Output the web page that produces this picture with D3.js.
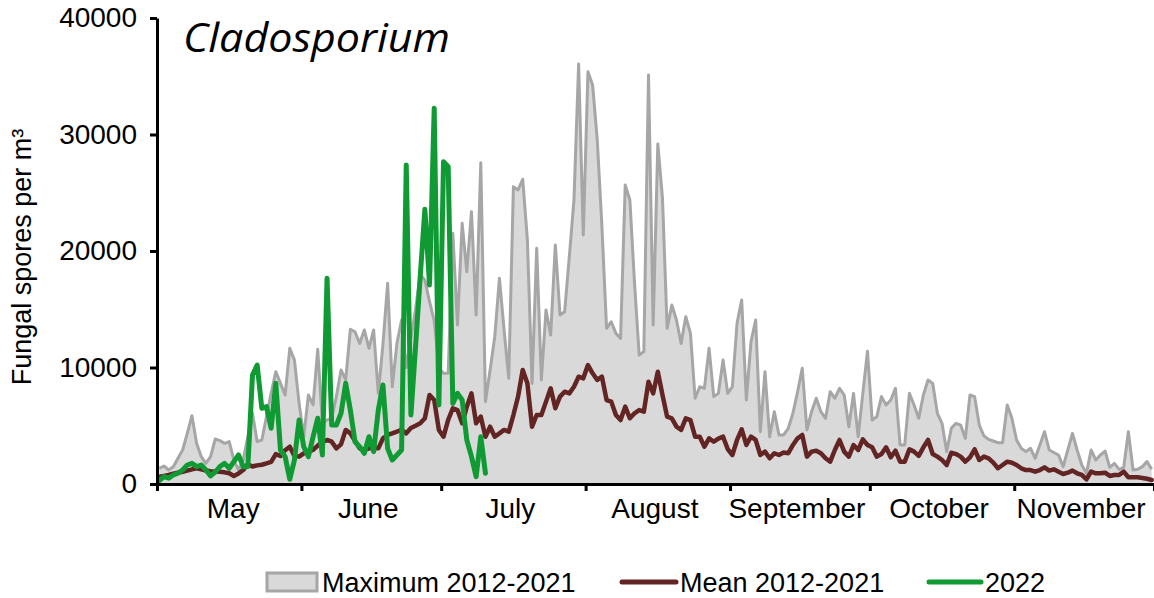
<!DOCTYPE html>
<html><head><meta charset="utf-8">
<script src="https://cdn.jsdelivr.net/npm/d3@7"></script>
<style>body{margin:0;background:#fff} svg{display:block}</style>
</head><body>
<svg id="c" width="1154" height="598"></svg>
<script>
const months = ["May","June","July","August","September","October","November"];
const monthStartDays = [0,31,61,92,123,153,184,214];
const yTicks = [0,10000,20000,30000,40000];
const legendLabels = ["Maximum 2012-2021","Mean 2012-2021","2022"];

const maxVals = [1345,1545,1201,1488,2203,2918,4349,5866,3491,2346,
1774,2346,3863,3720,3491,3634,2060,1201,2060,4063,
6066,3634,3777,5780,7783,9643,8641,7640,11646,10645,
6925,4063,7640,6800,11560,5240,5500,5640,7500,9790,
8930,13280,13070,12070,13220,11650,13220,7780,12000,17230,
8350,12070,14080,10000,12500,15000,18000,17500,15650,14000,
10000,9500,9500,21520,13650,22380,18220,23370,14500,27580,
7070,9790,12650,17660,13220,9070,25520,25240,26160,20950,
8640,20230,8930,14940,12790,20520,14510,14790,19510,24380,
36050,21370,35390,34250,29530,22090,13360,13930,12930,12500,
25670,24380,17230,11070,11360,35110,13650,29190,24520,13360,
15370,14080,12070,14360,12930,7360,8350,8210,11650,7500,
7780,10640,7780,8350,13790,15790,7210,12220,14080,4490,
9640,4060,6210,4210,4210,4780,6070,7920,9930,4640,
6210,7360,6210,5640,7920,7360,8210,7640,4920,7780,
4060,7780,11400,5490,5780,7500,6780,7210,8210,3350,
3350,7780,6780,5640,7640,8930,8640,6070,5210,2780,
4780,5210,5060,3920,7640,7500,5060,4120,3830,3690,
3550,3550,6780,5640,3780,3060,2780,3060,2210,3350,
4490,2920,2700,2490,1490,2920,4350,2920,1630,915,
2920,2060,2490,2830,1430,1770,1260,1430,4490,1200,
1260,1490,1920,1260];

const meanVals = [630,700,770,880,970,1050,1150,1250,1350,1250,
1150,1100,1080,1060,1000,920,690,900,1200,1700,
1500,1600,1650,1770,1900,2570,2400,2900,3200,2400,
2350,2630,2780,2920,3300,3600,3780,3630,3060,3400,
4640,4350,3700,3060,2920,3060,3060,3060,3920,4210,
4350,4490,4640,4350,4800,5000,5210,5640,7640,7210,
4640,4060,5500,6500,6350,5210,6640,7780,5210,5780,
4060,4920,4060,4350,4640,4490,5920,7500,9790,8640,
4920,5920,5920,7070,8210,6500,7500,7920,7780,8350,
9210,9070,10210,9500,8930,9210,7210,7070,5920,5490,
6640,5640,6070,6350,6210,8780,7780,9640,7640,5780,
5640,4920,4640,5640,5490,4060,4060,3200,3920,3630,
3900,4060,3000,2490,3780,4690,3350,4060,3780,2490,
2780,2210,2640,2490,2700,2640,3350,3920,4210,2350,
2780,2860,2640,2210,1920,2920,3780,2780,2350,3350,
2920,3830,3350,3150,2350,2570,3150,2290,2860,1920,
1920,2980,2780,2420,3150,3780,2570,2350,2060,1630,
2680,2570,2350,1920,2290,2980,2060,2350,2200,1830,
1350,1630,1920,1830,1630,1350,1200,1200,1060,1200,
1430,1150,1260,1060,860,970,1150,920,775,400,
1060,920,920,970,690,775,775,1060,575,575,
575,520,450,340];

const vals2022 = [300,640,500,770,920,1200,1630,1770,1490,1630,
1200,690,1030,1500,1770,1350,1920,2490,1490,1500,
9360,10210,6500,6640,4780,8640,2920,2350,400,2060,
5490,3200,2350,4060,5640,2490,17660,5060,5060,6070,
8640,6350,3630,3200,2640,4060,2780,6350,8500,3060,
2060,2490,2920,27390,5920,11790,17800,23580,17080,32250,
6780,27670,27240,6920,7780,7210,3780,2350,630,4060,920];

const FONT = "'Liberation Sans', Arial, sans-serif";
const svg = d3.select("#c");
const L = 157, R = 1154, T = 18, B = 484;
const nDays = monthStartDays[monthStartDays.length-1];
const x = d3.scaleLinear().domain([0, nDays]).range([L, R]);
const y = d3.scaleLinear().domain([0, 40000]).range([B, T]);
const px = (d, i) => x(i + 0.5);

const plot = svg.append("g");
plot.append("path").datum(maxVals)
  .attr("d", d3.area().x(px).y0(y(0)).y1(d => y(d)))
  .attr("fill", "#d9d9d9");
plot.append("path").datum(maxVals)
  .attr("d", d3.line().x(px).y(d => y(d)))
  .attr("fill", "none").attr("stroke", "#a6a6a6").attr("stroke-width", 3)
  .attr("stroke-linejoin", "round");
plot.append("path").datum(meanVals)
  .attr("d", d3.line().x(px).y(d => y(d)))
  .attr("fill", "none").attr("stroke", "#632523").attr("stroke-width", 4.5)
  .attr("stroke-linejoin", "round").attr("stroke-linecap", "round");
plot.append("path").datum(vals2022)
  .attr("d", d3.line().x(px).y(d => y(d)))
  .attr("fill", "none").attr("stroke", "#109a33").attr("stroke-width", 5)
  .attr("stroke-linejoin", "round").attr("stroke-linecap", "round");

// Y axis
const yAx = svg.append("g").attr("transform", `translate(${L},0)`)
  .call(d3.axisLeft(y).tickValues(yTicks).tickSize(7).tickSizeOuter(0).tickPadding(13).tickFormat(d3.format("d")));
yAx.select(".domain").attr("stroke", "#000").attr("stroke-width", 3);
yAx.selectAll(".tick line").attr("stroke", "#000").attr("stroke-width", 3);
yAx.selectAll(".tick text").attr("font-family", FONT).attr("font-size", 28).attr("fill", "#000");

// X axis
const xAx = svg.append("g").attr("transform", `translate(0,${B})`)
  .call(d3.axisBottom(x).tickValues(monthStartDays).tickSize(7).tickSizeOuter(0).tickFormat(""));
xAx.select(".domain").attr("stroke", "#000").attr("stroke-width", 3);
xAx.selectAll(".tick line").attr("stroke", "#000").attr("stroke-width", 3);

svg.append("g").selectAll("text").data(months).join("text")
  .attr("x", (d, i) => (x(monthStartDays[i]) + x(monthStartDays[i+1])) / 2 + (i === 0 ? 4 : -3))
  .attr("y", 518)
  .attr("text-anchor", "middle")
  .attr("font-family", FONT).attr("font-size", 28).attr("fill", "#000")
  .text(d => d);

// Y title
svg.append("text")
  .attr("transform", "translate(31,257) rotate(-90)")
  .attr("text-anchor", "middle")
  .attr("font-family", FONT).attr("font-size", 27).attr("fill", "#000")
  .text("Fungal spores per m³");

// Title
svg.append("text")
  .attr("x", 183).attr("y", 52)
  .attr("font-family", "'Open Sans', 'Noto Sans', sans-serif")
  .attr("font-style", "italic").attr("font-size", 40).attr("fill", "#000")
  .attr("textLength", 267).attr("lengthAdjust", "spacingAndGlyphs")
  .text("Cladosporium");

// Legend
const lg = svg.append("g");
lg.append("rect").attr("x", 267).attr("y", 573).attr("width", 50).attr("height", 18)
  .attr("fill", "#d9d9d9").attr("stroke", "#a6a6a6").attr("stroke-width", 3);
lg.append("line").attr("x1", 622).attr("x2", 676).attr("y1", 582).attr("y2", 582)
  .attr("stroke", "#632523").attr("stroke-width", 5).attr("stroke-linecap", "round");
lg.append("line").attr("x1", 929).attr("x2", 981).attr("y1", 582).attr("y2", 582)
  .attr("stroke", "#109a33").attr("stroke-width", 5).attr("stroke-linecap", "round");
const lgX = [322, 680, 985];
lg.selectAll("text").data(legendLabels).join("text")
  .attr("x", (d, i) => lgX[i]).attr("y", 592)
  .attr("font-family", FONT).attr("font-size", 27).attr("fill", "#000")
  .text(d => d);
</script>
</body></html>
